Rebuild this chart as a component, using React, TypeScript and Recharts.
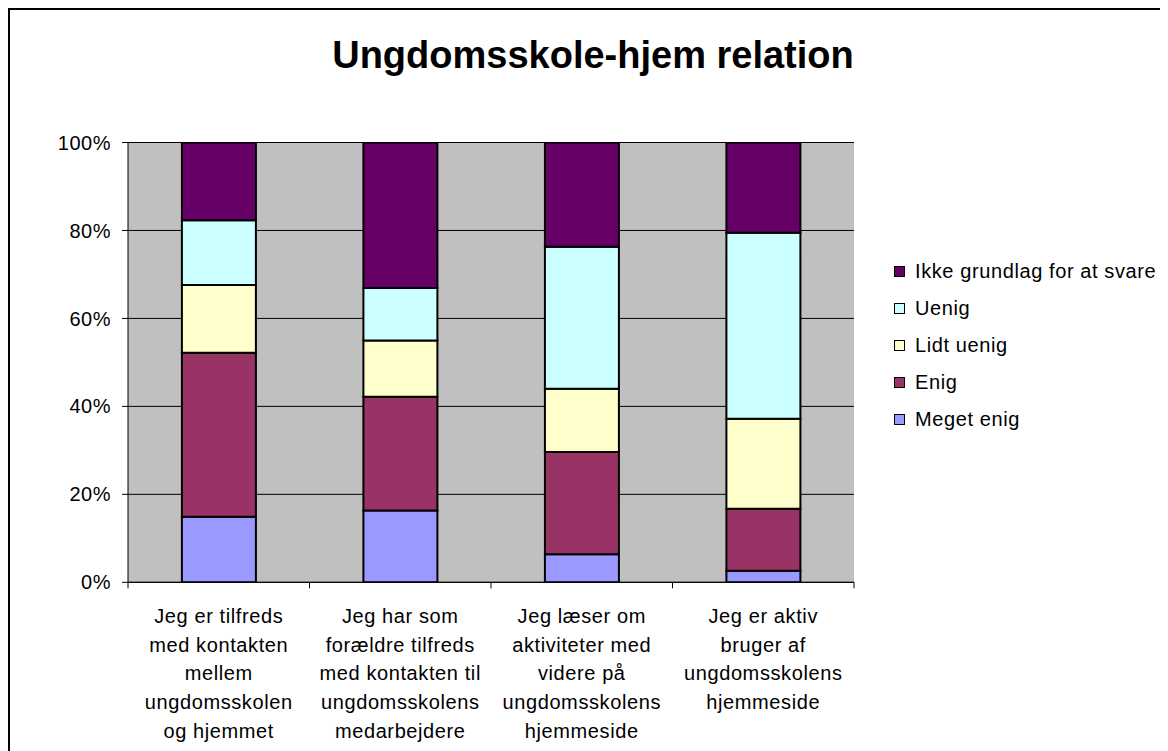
import React from 'react';
import { BarChart, Bar, XAxis, YAxis, CartesianGrid, Legend } from 'recharts';

const categories = [
  'Jeg er tilfreds\nmed kontakten\nmellem\nungdomsskolen\nog hjemmet',
  'Jeg har som\nforældre tilfreds\nmed kontakten til\nungdomsskolens\nmedarbejdere',
  'Jeg læser om\naktiviteter med\nvidere på\nungdomsskolens\nhjemmeside',
  'Jeg er aktiv\nbruger af\nungdomsskolens\nhjemmeside',
];
const megetEnig = [14.9, 16.3, 6.4, 2.6];
const enig = [37.3, 25.9, 23.2, 14.1];
const lidtUenig = [15.4, 12.8, 14.4, 20.5];
const uenig = [14.7, 11.9, 32.3, 42.3];
const ikkeGrundlag = [17.7, 33.1, 23.7, 20.5];
const yTicks = [0, 20, 40, 60, 80, 100];

const seriesDefs = [
  { key: 'megetEnig', name: 'Meget enig', color: '#9999FF', values: megetEnig },
  { key: 'enig', name: 'Enig', color: '#993366', values: enig },
  { key: 'lidtUenig', name: 'Lidt uenig', color: '#FFFFCC', values: lidtUenig },
  { key: 'uenig', name: 'Uenig', color: '#CCFFFF', values: uenig },
  { key: 'ikke', name: 'Ikke grundlag for at svare', color: '#660066', values: ikkeGrundlag },
];

const data = categories.map((c, i) => {
  const row: any = { name: c };
  seriesDefs.forEach((s) => {
    row[s.key] = s.values[i];
  });
  return row;
});

const FONT = '"Liberation Sans", Arial, sans-serif';

const XTick = (props: any) => {
  const { x, y, payload, index, visibleTicksCount, width } = props;
  const half = (payload && payload.offset) || width / visibleTicksCount / 2;
  const lines = String(payload.value).split('\n');
  return (
    <g>
      <line x1={x - half} x2={x - half} y1={y} y2={y + 6} stroke="#000" strokeWidth={1} />
      {index === visibleTicksCount - 1 && (
        <line x1={x + half} x2={x + half} y1={y} y2={y + 6} stroke="#000" strokeWidth={1} />
      )}
      <text
        x={x}
        y={y + 40.5}
        textAnchor="middle"
        fill="#000"
        fontSize={20}
        fontFamily={FONT}
        style={{ letterSpacing: '0.6px' }}
      >
        {lines.map((l, i) => (
          <tspan key={i} x={x} dy={i === 0 ? 0 : 28.75}>
            {l}
          </tspan>
        ))}
      </text>
    </g>
  );
};

const LegendContent = (props: any) => {
  const payload = props.payload || [];
  const order = seriesDefs.map((s) => s.name).reverse();
  const items = order
    .map((n) => payload.find((p: any) => p.value === n))
    .filter(Boolean);
  return (
    <div style={{ fontFamily: FONT, fontSize: 20, letterSpacing: '0.6px', color: '#000' }}>
      {items.map((it: any, i: number) => (
        <div key={i} style={{ height: 37.1, display: 'flex', alignItems: 'center' }}>
          <span
            style={{
              display: 'inline-block',
              width: 11,
              height: 11,
              boxSizing: 'border-box',
              background: it.color,
              border: '1.5px solid #000',
              marginRight: 10,
            }}
          />
          <span style={{ whiteSpace: 'nowrap' }}>{it.value}</span>
        </div>
      ))}
    </div>
  );
};

export default function App() {
  return (
    <div
      style={{
        position: 'relative',
        width: 1160,
        height: 743,
        boxSizing: 'border-box',
        borderLeft: '2px solid #000',
        borderTop: '2px solid #000',
        background: '#fff',
        overflow: 'hidden',
        fontFamily: FONT,
      }}
    >
      <div
        style={{
          position: 'absolute',
          left: 0,
          top: 25.5,
          width: 1166,
          textAlign: 'center',
          fontSize: 38,
          fontWeight: 'bold',
          lineHeight: '38px',
          color: '#000',
          whiteSpace: 'nowrap',
        }}
      >
        Ungdomsskole-hjem relation
      </div>
      <BarChart
        width={1158}
        height={741}
        data={data}
        margin={{ top: 132.5, right: 314, bottom: 0, left: 0 }}
        barCategoryGap="29.7%"
      >
        <CartesianGrid vertical={false} stroke="#000" fill="#C0C0C0" fillOpacity={1} />
        <XAxis
          dataKey="name"
          height={168.7}
          tickLine={false}
          tickSize={0}
          tickMargin={0}
          axisLine={{ stroke: '#000' }}
          tick={<XTick />}
          interval={0}
        />
        <YAxis
          width={118}
          domain={[0, 100]}
          ticks={yTicks}
          tickFormatter={(v: number) => `${v}%`}
          tickSize={6}
          tickMargin={11}
          tickLine={{ stroke: '#000' }}
          axisLine={{ stroke: '#000' }}
          tick={{ fill: '#000', fontSize: 20, fontFamily: FONT, style: { letterSpacing: '0.5px' } } as any}
          allowDataOverflow
        />
        <YAxis
          yAxisId="right"
          orientation="right"
          width={0}
          tick={false}
          tickLine={false}
          axisLine={{ stroke: '#808080' }}
          domain={[0, 100]}
        />
        <Legend
          layout="vertical"
          align="center"
          verticalAlign="middle"
          content={<LegendContent />}
          wrapperStyle={{ left: 884, top: 243, width: 274, height: 190 }}
        />
        {seriesDefs.map((s) => (
          <Bar
            key={s.key}
            dataKey={s.key}
            name={s.name}
            stackId="a"
            fill={s.color}
            stroke="#000"
            strokeWidth={2}
            isAnimationActive={false}
          />
        ))}
      </BarChart>
    </div>
  );
}
